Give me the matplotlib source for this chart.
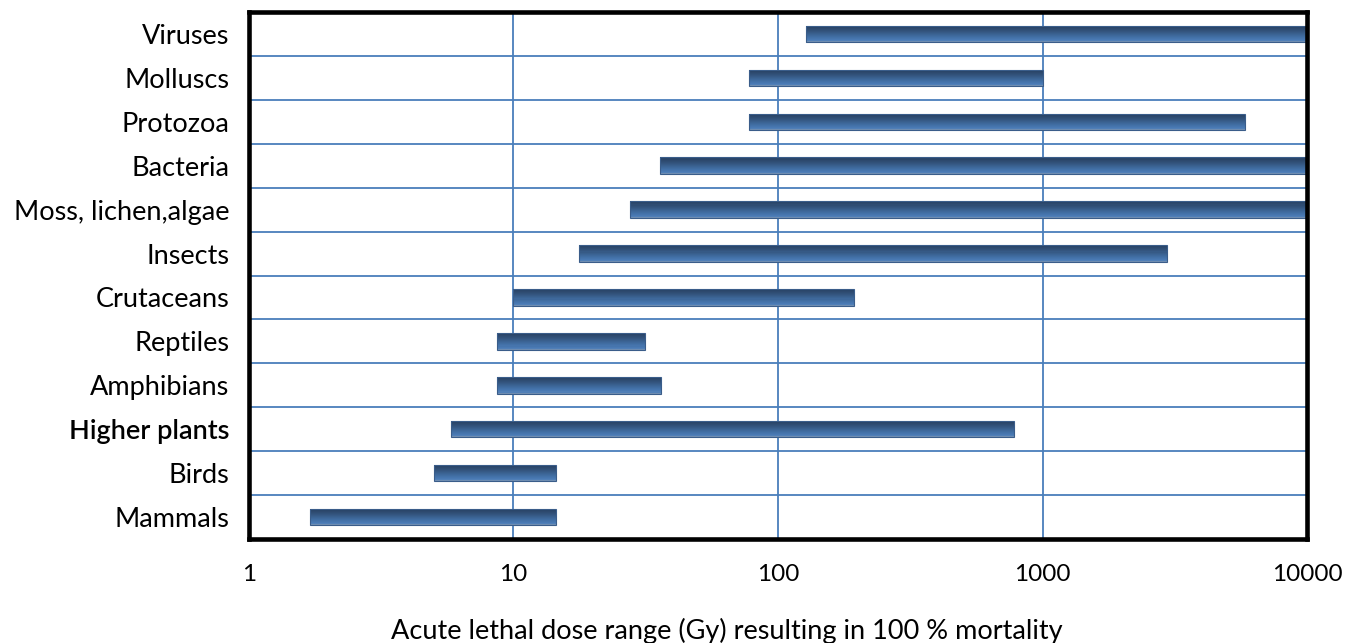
import matplotlib
matplotlib.use("Agg")
import matplotlib.pyplot as plt
import numpy as np
from matplotlib.colors import LinearSegmentedColormap

categories = ["Mammals", "Birds", "Higher plants", "Amphibians", "Reptiles",
              "Crutaceans", "Insects", "Moss, lichen,algae", "Bacteria",
              "Protozoa", "Molluscs", "Viruses"]
dose_min = [1.7, 5.0, 5.8, 8.7, 8.7, 10, 17.7, 27.7, 35.8, 78, 78, 128]
dose_max = [14.5, 14.5, 780, 36, 31.5, 193, 2950, 10000, 10000, 5800, 1000, 10000]
xticks = [1, 10, 100, 1000, 10000]
xtick_labels = ["1", "10", "100", "1000", "10000"]

plt.rcParams['font.family'] = ['Lato', 'DejaVu Sans']

fig = plt.figure(figsize=(13.59, 6.43), dpi=100)
ax = fig.add_axes([0.183, 0.162, 0.779, 0.819])
ax.set_xscale('log')
ax.set_xlim(1, 10000)
ax.set_ylim(-0.5, len(categories) - 0.5)

grid_c = '#4a7ebb'
for xv in xticks[1:]:
    ax.axvline(xv, color=grid_c, lw=1.3, zorder=1)
for i in range(len(categories) - 1):
    ax.axhline(i + 0.5, color=grid_c, lw=1.3, zorder=1)

# gradient bars: stacked strips from top (dark) to bottom (light)
cmap = LinearSegmentedColormap.from_list(
    'bar', [(0.0, '#273f61'), (0.3, '#32527a'), (0.7, '#4270a6'), (0.9, '#4b7cb7'), (1.0, '#8196b2')])
h = 0.38
n = 16
y = np.arange(len(categories))
widths = np.array(dose_max) - np.array(dose_min)
for k in range(n):
    t = (k + 0.5) / n
    yc = y + h / 2 - (k + 0.5) * h / n
    ax.barh(yc, widths, left=dose_min, height=h / n * 1.05, color=cmap(t),
            edgecolor='none', zorder=2)
ax.barh(y, widths, left=dose_min, height=h, color='none',
        edgecolor='#3a5d8a', lw=0.8, zorder=3)

ax.set_yticks(y)
ax.set_yticklabels(categories, fontsize=19.5)
for lab in ax.get_yticklabels():
    if lab.get_text() == "Higher plants":
        lab.set_fontweight('semibold')
ax.set_xticks(xticks)
ax.set_xticklabels(xtick_labels, fontsize=17.5)
ax.xaxis.set_minor_locator(matplotlib.ticker.NullLocator())
ax.tick_params(axis='y', length=0, pad=14)
ax.tick_params(axis='x', length=0, pad=18)

fig.text(727 / 1359, 1 - 631 / 643,
         "Acute lethal dose range (Gy) resulting in 100 % mortality",
         fontsize=19.5, ha='center', va='center')

for s in ax.spines.values():
    s.set_linewidth(3.3)
    s.set_color('black')
    s.set_zorder(5)

fig.savefig("out.png", dpi=100)
